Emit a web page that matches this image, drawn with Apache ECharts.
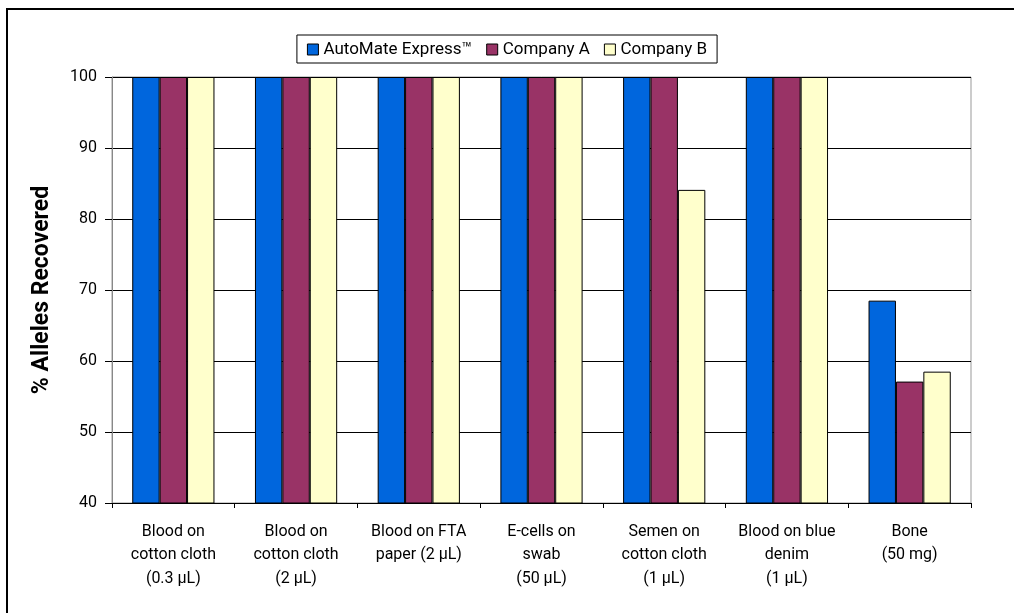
<!DOCTYPE html>
<html>
<head>
<meta charset="utf-8">
<script src="https://cdn.jsdelivr.net/npm/echarts@6/dist/echarts.min.js"></script>
<style>
  html, body { margin: 0; padding: 0; background: #fff; }
  #chart { width: 1014px; height: 613px; }
</style>
</head>
<body>
<div id="chart"></div>
<script>
const categories = [
  'Blood on\ncotton cloth\n(0.3 μL)',
  'Blood on\ncotton cloth\n(2 μL)',
  'Blood on FTA\npaper (2 μL)',
  'E-cells on\nswab\n(50 μL)',
  'Semen on\ncotton cloth\n(1 μL)',
  'Blood on blue\ndenim\n(1 μL)',
  'Bone\n(50 mg)'
];
const automate = [100, 100, 100, 100, 100, 100, 68.5];
const companyA = [100, 100, 100, 100, 100, 100, 57.1];
const companyB = [100, 100, 100, 100, 84.1, 100, 58.5];
const seriesNames = ['AutoMate Express™', 'Company A', 'Company B'];
const colors = ['#0066DD', '#993366', '#FFFFCC'];

const font = 'Roboto, "DejaVu Sans", sans-serif';
const chart = echarts.init(document.getElementById('chart'), null, { renderer: 'canvas' });

function bar(name, data, color) {
  return {
    name: name,
    type: 'bar',
    data: data,
    barGap: '0%',
    barCategoryGap: '33%',
    itemStyle: { color: color, borderColor: '#000', borderWidth: 1 },
    emphasis: { disabled: true }
  };
}

chart.setOption({
  animation: false,
  textStyle: { fontFamily: font },
  graphic: [{
    type: 'rect',
    shape: { x: 7, y: 9, width: 1020, height: 620 },
    style: { fill: 'none', stroke: '#000', lineWidth: 2 },
    silent: true
  }],
  legend: {
    top: 35,
    left: 'center',
    itemWidth: 11,
    itemHeight: 11,
    itemGap: 14,
    padding: [6, 10, 5, 10],
    borderColor: '#000',
    borderWidth: 1,
    icon: 'rect',
    itemStyle: { borderColor: '#000', borderWidth: 1 },
    textStyle: { fontSize: 17, color: '#000', fontFamily: font },
    data: seriesNames
  },
  grid: { left: 112, right: 43, top: 77, bottom: 110, show: true, borderColor: '#999', borderWidth: 1 },
  xAxis: {
    type: 'category',
    data: categories,
    axisLine: { lineStyle: { color: '#000' } },
    axisTick: { show: true, length: 5, lineStyle: { color: '#000' } },
    axisLabel: { fontSize: 16, color: '#000', lineHeight: 23.5, margin: 17, interval: 0 }
  },
  yAxis: {
    type: 'value',
    min: 40,
    max: 100,
    interval: 10,
    name: '% Alleles Recovered',
    nameLocation: 'middle',
    nameGap: 58,
    nameTextStyle: { fontSize: 23, fontWeight: 'bold', color: '#000' },
    axisLine: { show: true, lineStyle: { color: '#888' } },
    axisTick: { show: true, length: 7, lineStyle: { color: '#000' } },
    axisLabel: { fontSize: 16, color: '#000', margin: 15 },
    splitLine: { show: true, lineStyle: { color: '#000', width: 1 } }
  },
  series: [
    bar(seriesNames[0], automate, colors[0]),
    bar(seriesNames[1], companyA, colors[1]),
    bar(seriesNames[2], companyB, colors[2])
  ]
});
</script>
</body>
</html>
